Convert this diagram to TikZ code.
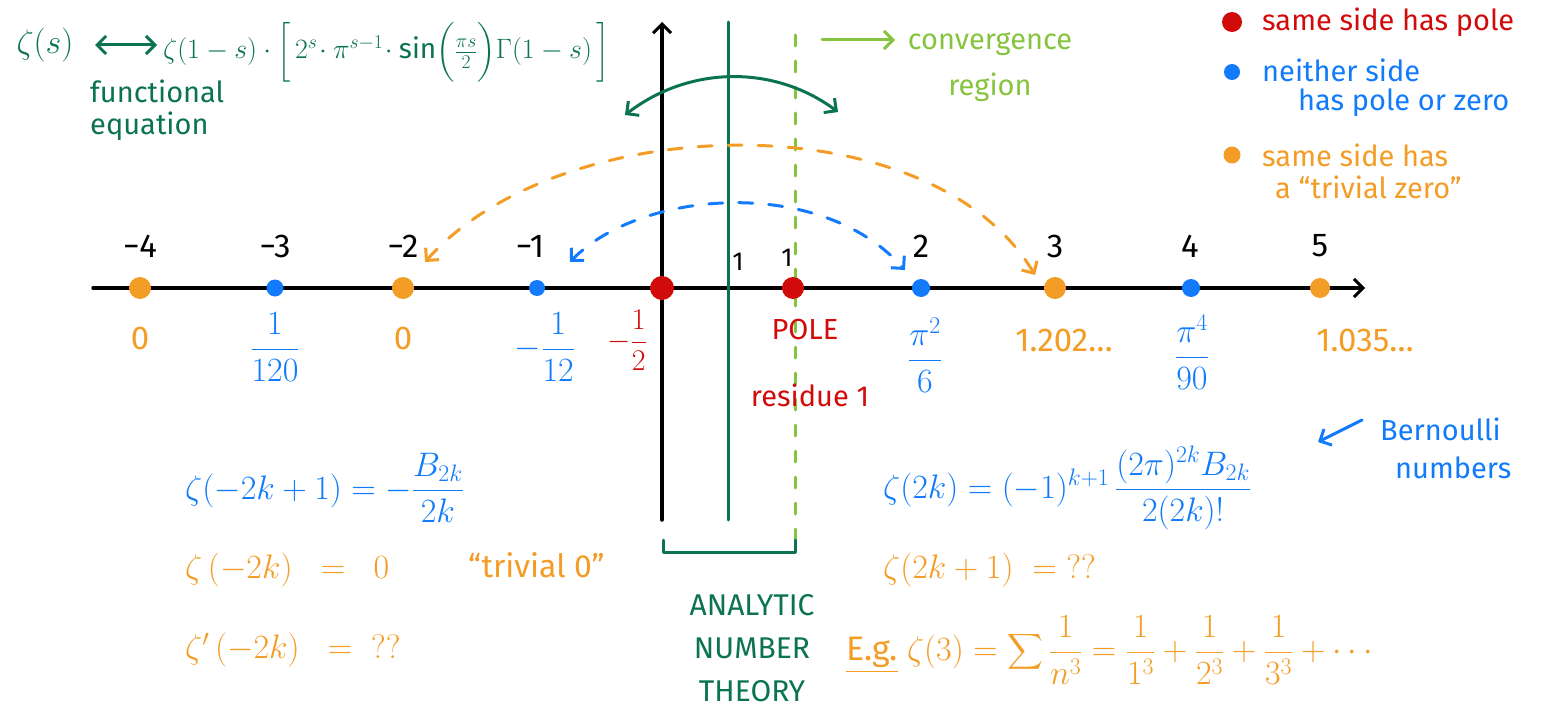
\RequirePackage{fix-cm}
\documentclass[tikz,border=0pt]{standalone}
\usepackage{amsmath}
\usepackage{fontspec}
\setmainfont{Fira Sans}
\usetikzlibrary{arrows.meta}
\definecolor{dgreen}{HTML}{0B7350}
\definecolor{lgreen}{HTML}{86C440}
\definecolor{zred}{HTML}{D10A0A}
\definecolor{zblue}{HTML}{117BFB}
\definecolor{zorange}{HTML}{F39C26}
\tikzset{
  pen/.style={line width=3.5pt, line cap=round, line join=round},
  thinpen/.style={line width=3pt, line cap=round},
  tipend/.style={-{Straight Barb[length=9pt,width=18pt,line width=3pt]}},
  tipboth/.style={{Straight Barb[length=9pt,width=18pt,line width=3pt]}-{Straight Barb[length=9pt,width=18pt,line width=3pt]}},
  dashpen/.style={line width=3pt, line cap=round, dash pattern=on 14pt off 16pt},
  txt/.style={inner sep=0pt, font=\fontsize{29}{34}\selectfont},
  numtxt/.style={inner sep=0pt, font=\fontsize{33}{38}\selectfont},
  smalltxt/.style={inner sep=0pt, font=\fontsize{26}{30}\selectfont},
  mth/.style={inner sep=0pt, font=\fontsize{34}{40}\selectfont},
  dotstyle/.style={circle, inner sep=0pt},
}
\begin{document}
\begin{tikzpicture}[x=1pt,y=-1pt]
\useasboundingbox (0,0) rectangle (1542,709);

% axes and vertical lines
\coordinate (xl) at (93,288);
\coordinate (xr) at (1365,288);
\coordinate (yb) at (662,520);
\coordinate (yt) at (662,22);
\coordinate (gt) at (728,22);
\coordinate (gb) at (728,520);
\coordinate (lt) at (795,35);
\coordinate (lb) at (795,548);
\draw[pen, tipend] (xl) -- (xr);
\draw[pen, tipend] (yb) -- (yt);
\draw[thinpen, dgreen] (gt) -- (gb);
\draw[line width=3pt, line cap=round, dash pattern=on 11pt off 15pt, lgreen] (lt) -- (lb);

% bracket and label
\coordinate (b1) at (663,540);
\coordinate (b2) at (663,552);
\coordinate (b3) at (795,552);
\coordinate (b4) at (795,540);
\draw[thinpen, dgreen, line join=round] (b1) -- (b2) -- (b3) -- (b4);
\node[txt, dgreen, align=center, font=\fontsize{30}{43}\selectfont] (ant) at (752,648) {ANALYTIC\\NUMBER\\THEORY};

% dots
\foreach \n/\x/\c/\s in {m4/140/zorange/22, m3/275/zblue/17, m2/403/zorange/22, m1/537/zblue/16, z0/662/zred/24, p1/793/zred/22, p2/921/zblue/18, p3/1055/zorange/22, p4/1191/zblue/18, p5/1320/zorange/20}
  \node[dotstyle, fill=\c, minimum size=\s pt] (d\n) at (\x,288) {};

% labels above the axis
\foreach \n/\x/\t in {m4/140/−4, m3/275/−3, m2/403/−2, m1/530/−1, p2/921/2, p3/1055/3, p4/1190/4, p5/1320/5}
  \node[numtxt] (a\n) at (\x,246) {\t};
\node[smalltxt] (ahalf) at (738,262) {1};
\node[smalltxt] (aone) at (787,258) {1};

% labels below the axis
\node[numtxt, zorange] (vm4) at (140,338) {0};
\node[mth, zblue] (vm3) at (275,347) {$\dfrac{1}{120}$};
\node[numtxt, zorange] (vm2) at (403,338) {0};
\node[mth, zblue] (vm1) at (545,347) {$-\dfrac{1}{12}$};
\node[mth, zred, font=\fontsize{30}{36}\selectfont] (vz0) at (627,340) {$-\dfrac{1}{2}$};
\node[txt, zred] (vp1) at (805,330) {POLE};
\node[txt, zred] (res) at (810,395) {residue 1};
\node[mth, zblue] (vp2) at (925,355) {$\dfrac{\pi^2}{6}$};
\node[numtxt, zorange] (vp3) at (1064,340) {1.202…};
\node[mth, zblue] (vp4) at (1192,352) {$\dfrac{\pi^4}{90}$};
\node[numtxt, zorange] (vp5) at (1365,340) {1.035…};

% dashed curved arrows
\coordinate (bL) at (570,262);
\coordinate (bR) at (905,270);
\draw[dashpen, zblue, tipboth] (bL) .. controls (640,190) and (820,175) .. (bR);
\coordinate (oL) at (425,262);
\coordinate (oR) at (1035,275);
\draw[dashpen, zorange, tipboth] (oL) .. controls (560,110) and (930,100) .. (oR);

% functional equation
\node[mth, dgreen] (zs) at (45,45) {$\zeta(s)$};
\coordinate (fa1) at (95,45);
\coordinate (fa2) at (157,45);
\draw[thinpen, dgreen, tipboth] (fa1) -- (fa2);
\node[mth, dgreen, anchor=west, font=\fontsize{28}{34}\selectfont] (fe) at (163,52) {$\zeta(1-s)\cdot\left[\rule[-22pt]{0pt}{50pt}\,2^s\!\cdot\pi^{s-1}\!\cdot\sin\!\Big(\frac{\pi s}{2}\Big)\Gamma(1-s)\,\right]$};
\node[txt, dgreen, align=left, anchor=north west, font=\fontsize{29}{32}\selectfont] (fl) at (90,80) {functional\\equation};
\coordinate (ga1) at (625,115);
\coordinate (ga2) at (838,112);
\draw[thinpen, dgreen, tipboth] (ga1) .. controls (690,65) and (775,65) .. (ga2);

% convergence region
\coordinate (ca1) at (822,40);
\coordinate (ca2) at (895,40);
\draw[thinpen, lgreen, tipend] (ca1) -- (ca2);
\node[txt, lgreen, align=center, font=\fontsize{29}{46}\selectfont] (conv) at (990,67) {convergence\\region};

% legend
\node[dotstyle, fill=zred, minimum size=20pt] (lr) at (1232,22) {};
\node[dotstyle, fill=zblue, minimum size=16pt] (lbl) at (1232,72) {};
\node[dotstyle, fill=zorange, minimum size=17pt] (lo) at (1232,155) {};
\node[txt, zred, anchor=west] (tr) at (1262,22) {same side has pole};
\node[txt, zblue, anchor=west] (tb1) at (1262,70) {neither side};
\node[txt, zblue, anchor=west] (tb2) at (1298,103) {has pole or zero};
\node[txt, zorange, anchor=west] (to1) at (1262,155) {same side has};
\node[txt, zorange, anchor=west] (to2) at (1275,187) {a “trivial zero”};

% bottom left formulas
\node[mth, zblue, anchor=west] (f1) at (185,488) {$\zeta(-2k+1)=-\dfrac{B_{2k}}{2k}$};
\node[mth, zorange, anchor=west] (f2) at (185,570) {$\zeta\,(-2k)\;\;=\;\;0$};
\node[txt, zorange, anchor=west, font=\fontsize{32}{36}\selectfont] (f2t) at (468,565) {“trivial 0”};
\node[mth, zorange, anchor=west] (f3) at (185,650) {$\zeta'\,(-2k)\;\;=\;\;??$};

% bottom right formulas
\node[mth, zblue, anchor=west] (f4) at (883,488) {$\zeta(2k)=(-1)^{k+1}\,\dfrac{(2\pi)^{2k}B_{2k}}{2(2k)!}$};
\node[txt, zblue, align=left, anchor=north west, font=\fontsize{29}{38}\selectfont] (bern) at (1380,418) {Bernoulli\\\hspace*{15pt}numbers};
\coordinate (bea1) at (1362,420);
\coordinate (bea2) at (1318,442);
\draw[thinpen, zblue, tipend] (bea1) -- (bea2);
\node[mth, zorange, anchor=west] (f5) at (883,570) {$\zeta(2k+1)\;=\;??$};
\node[mth, zorange, anchor=west] (f6) at (846,650) {\underline{E.g.}\ $\zeta(3)=\displaystyle\sum\frac{1}{n^3}=\frac{1}{1^3}+\frac{1}{2^3}+\frac{1}{3^3}+\cdots$};
\end{tikzpicture}
\end{document}
